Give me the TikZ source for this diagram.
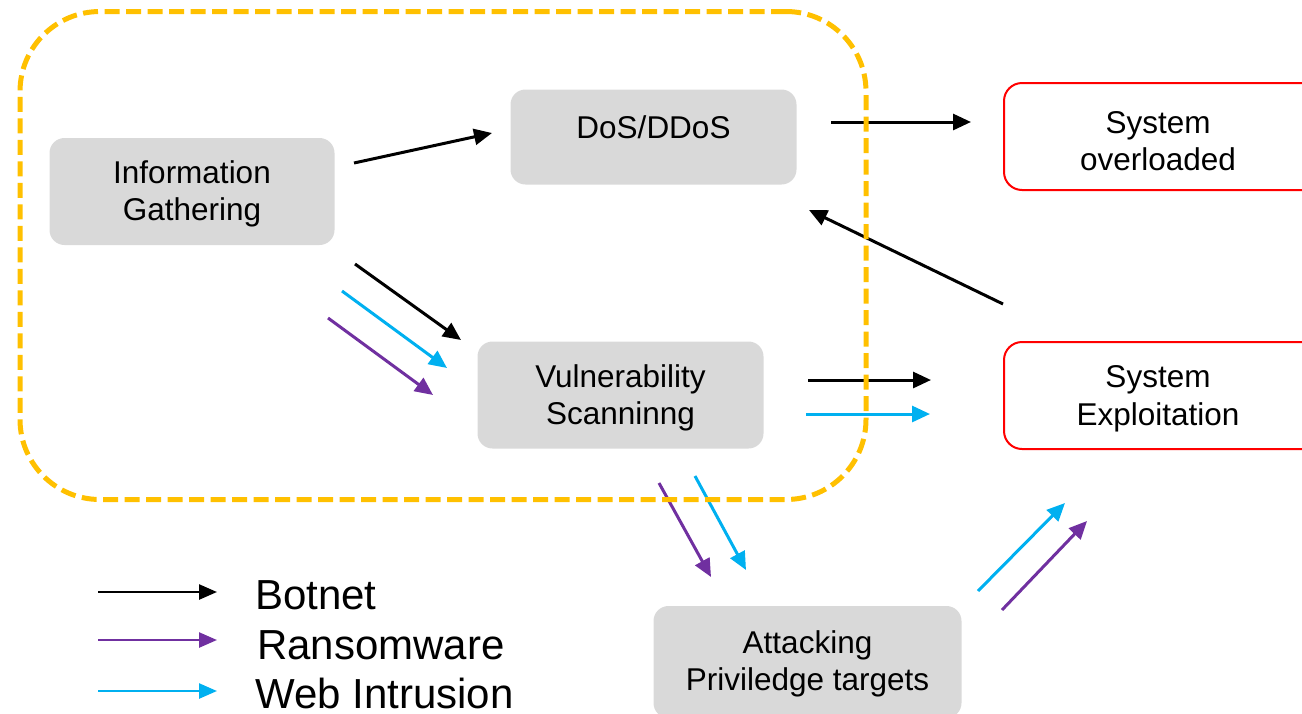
\documentclass[tikz,border=0pt]{standalone}
\usepackage{fontspec}
\setmainfont{Liberation Sans}
\usetikzlibrary{arrows.meta}
\definecolor{boxgray}{HTML}{D9D9D9}
\definecolor{alarm}{HTML}{FF0000}
\definecolor{frameorange}{HTML}{FFC000}
\definecolor{ransom}{HTML}{7030A0}
\definecolor{webint}{HTML}{00B0F0}
\begin{document}
\begin{tikzpicture}[x=1pt,y=-1pt,
  txt/.style={align=center, inner sep=0pt, font=\fontsize{31.5}{37.5}\selectfont},
  gbox/.style={fill=boxgray, rounded corners=15pt, inner sep=0pt},
  rbox/.style={draw=alarm, line width=2pt, fill=white, rounded corners=18pt, inner sep=0pt},
  frame/.style={draw=frameorange, line width=5pt, rounded corners=80pt,
    dash pattern=on 15pt off 6.5pt, inner sep=0pt},
  flow/.style={line width=3pt, -{Triangle[length=18pt,width=16pt]}},
  key/.style={line width=2.5pt, -{Triangle[length=18pt,width=15pt]}},
  keytxt/.style={anchor=base west, inner sep=0pt, text depth=0pt, font=\fontsize{42}{48}\selectfont},
  botnet/.style={draw=black},
  ransomware/.style={draw=ransom},
  webintrusion/.style={draw=webint}]
\useasboundingbox (0,0) rectangle (1302,713);
\clip (0,0) rectangle (1302,713);

% stages of an attack
\node[gbox, minimum width=285pt, minimum height=107pt] (info) at (192,191.5) {};
\node[txt] (infotxt) at (192,194) {Information\\Gathering};
\node[gbox, minimum width=286pt, minimum height=95pt] (dos) at (653.5,137) {};
\node[txt] (dostxt) at (653.5,127) {DoS/DDoS};
\node[gbox, minimum width=286pt, minimum height=107pt] (vuln) at (620.5,395) {};
\node[txt] (vulntxt) at (620.5,398) {Vulnerability\\Scanninng};
\node[gbox, minimum width=308pt, minimum height=112pt] (priv) at (807.5,662) {};
\node[txt] (privtxt) at (807.5,664) {Attacking\\Priviledge targets};

% outcomes
\node[rbox, minimum width=336pt, minimum height=107pt] (over) at (1172,136.5) {};
\node[txt] (overtxt) at (1158,141) {System\\overloaded};
\node[rbox, minimum width=336pt, minimum height=107pt] (expl) at (1172,395.5) {};
\node[txt] (expltxt) at (1158,399) {System\\Exploitation};

% connector end points
\coordinate (a1) at (354,163);  \coordinate (a2) at (492,133);
\coordinate (b1) at (355,264);  \coordinate (b2) at (461,340);
\coordinate (c1) at (342,291);  \coordinate (c2) at (447,368);
\coordinate (d1) at (328,318);  \coordinate (d2) at (433,395);
\coordinate (e1) at (831,122);  \coordinate (e2) at (971,122);
\coordinate (f1) at (1003,304); \coordinate (f2) at (809,210);
\coordinate (g1) at (808,380);  \coordinate (g2) at (931,380);
\coordinate (h1) at (806,414);  \coordinate (h2) at (930,414);
\coordinate (i1) at (659,483);  \coordinate (i2) at (711,577);
\coordinate (j1) at (695,476);  \coordinate (j2) at (746,570);
\coordinate (k1) at (978,591);  \coordinate (k2) at (1065,503);
\coordinate (l1) at (1002,610); \coordinate (l2) at (1087,521);

\draw[flow, botnet] (a1) -- (a2);
\draw[flow, botnet] (b1) -- (b2);
\draw[flow, webintrusion] (c1) -- (c2);
\draw[flow, ransomware] (d1) -- (d2);
\draw[flow, botnet] (e1) -- (e2);
\draw[flow, botnet] (f1) -- (f2);
\draw[flow, botnet] (g1) -- (g2);
\draw[flow, webintrusion] (h1) -- (h2);
\draw[flow, ransomware] (i1) -- (i2);
\draw[flow, webintrusion] (j1) -- (j2);
\draw[flow, webintrusion] (k1) -- (k2);
\draw[flow, ransomware] (l1) -- (l2);

% dashed grouping of the early stages
\node[frame, minimum width=846pt, minimum height=488pt] (group) at (443,255.5) {};

% legend
\coordinate (k1s) at (98,592);  \coordinate (k1e) at (217,592);
\coordinate (k2s) at (98,640);  \coordinate (k2e) at (217,640);
\coordinate (k3s) at (98,691);  \coordinate (k3e) at (217,691);
\draw[key, botnet] (k1s) -- (k1e);
\draw[key, ransomware] (k2s) -- (k2e);
\draw[key, webintrusion] (k3s) -- (k3e);
\node[keytxt] (lbot) at (255,609) {Botnet};
\node[keytxt] (lran) at (257,659) {Ransomware};
\node[keytxt] (lweb) at (255,708) {Web Intrusion};
\end{tikzpicture}
\end{document}
